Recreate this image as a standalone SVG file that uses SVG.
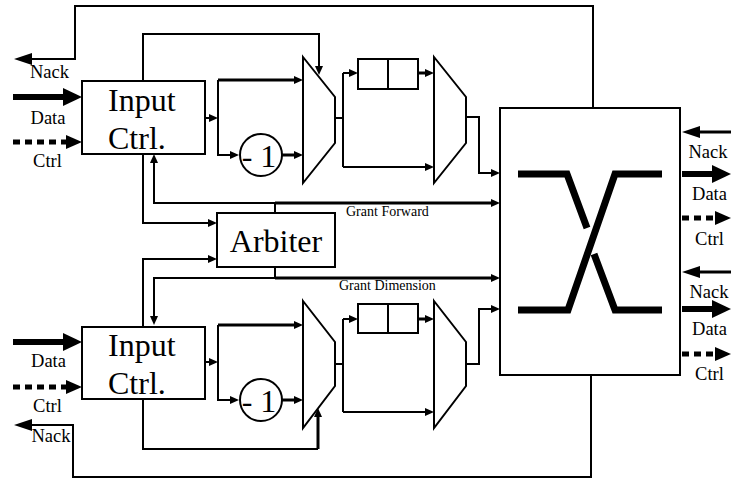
<svg xmlns="http://www.w3.org/2000/svg" width="731" height="479" viewBox="0 0 731 479">
<style>
.ln{fill:none;stroke:#000;stroke-width:2}
.th{fill:none;stroke:#000;stroke-width:3}
.fat{fill:none;stroke:#000;stroke-width:6}
.dot{fill:none;stroke:#000;stroke-width:5;stroke-dasharray:7 5}
.box{fill:#fff;stroke:#000;stroke-width:2}
.x{fill:none;stroke:#000;stroke-width:7;stroke-linejoin:miter}
.big{font-family:"Liberation Serif","Times New Roman",serif;font-size:32px;fill:#000}
.lab{font-family:"Liberation Serif","Times New Roman",serif;font-size:18.5px;fill:#000}
.sm{font-family:"Liberation Serif","Times New Roman",serif;font-size:14px;fill:#000}
</style>
<defs>
<marker id="a" markerUnits="userSpaceOnUse" markerWidth="10" markerHeight="9" refX="1" refY="4" orient="auto"><path d="M0,0 L9,4 L0,8 z" fill="#000" stroke="none"/></marker>
<marker id="m" markerUnits="userSpaceOnUse" markerWidth="19" markerHeight="13" refX="1" refY="6" orient="auto"><path d="M0,0 L18,6 L0,12 z" fill="#000" stroke="none"/></marker>
<marker id="f" markerUnits="userSpaceOnUse" markerWidth="20" markerHeight="19" refX="1" refY="9" orient="auto"><path d="M0,0 L19,9 L0,18 z" fill="#000" stroke="none"/></marker>
<marker id="c" markerUnits="userSpaceOnUse" markerWidth="17" markerHeight="15" refX="1" refY="7" orient="auto"><path d="M0,0 L16,7 L0,14 z" fill="#000" stroke="none"/></marker>
</defs>
<rect width="731" height="479" fill="#fff"/>
<g id="connectors">
<path class="ln" d="M593,108 V6 H75 V59 H31" marker-end="url(#m)"/>
<path class="fat" d="M13,97 H64" marker-end="url(#f)"/>
<path class="dot" d="M13,142 H67" marker-end="url(#c)"/>
<path class="ln" d="M205,118 H210" marker-end="url(#a)"/>
<path class="th" d="M218,80 H295" marker-end="url(#a)"/>
<path class="ln" d="M218,80 V155 H231" marker-end="url(#a)"/>
<path class="th" d="M282,155 H295" marker-end="url(#a)"/>
<path class="ln" d="M143,81 V34 H319 V67" marker-end="url(#a)"/>
<path class="ln" d="M335,118 H343"/>
<path class="ln" d="M343,73 V167"/>
<path class="ln" d="M343,73 H350" marker-end="url(#a)"/>
<path class="ln" d="M343,167 H426" marker-end="url(#a)"/>
<path class="th" d="M418,73 H426" marker-end="url(#a)"/>
<path class="ln" d="M466,117 H479 V173 H492" marker-end="url(#a)"/>
<path class="ln" d="M275,213 V203 H154 V162" marker-end="url(#a)"/>
<path class="th" d="M275,203 H492" marker-end="url(#a)"/>
<path class="ln" d="M143,154 V223 H209" marker-end="url(#a)"/>
<path class="ln" d="M143,327 V259 H209" marker-end="url(#a)"/>
<path class="ln" d="M275,267 V278 H154 V317" marker-end="url(#a)"/>
<path class="th" d="M275,278 H492" marker-end="url(#a)"/>
<path class="fat" d="M13,342 H64" marker-end="url(#f)"/>
<path class="dot" d="M13,387 H67" marker-end="url(#c)"/>
<path class="ln" d="M591,375 V477 H73 V425 H31" marker-end="url(#m)"/>
<path class="ln" d="M205,362 H210" marker-end="url(#a)"/>
<path class="th" d="M218,325 H295" marker-end="url(#a)"/>
<path class="ln" d="M218,325 V400 H231" marker-end="url(#a)"/>
<path class="th" d="M282,400 H295" marker-end="url(#a)"/>
<path class="ln" d="M143,399 V449 H318"/>
<path class="th" d="M318,449 V416" marker-end="url(#a)"/>
<path class="ln" d="M335,364 H343"/>
<path class="ln" d="M343,319 V412"/>
<path class="ln" d="M343,319 H350" marker-end="url(#a)"/>
<path class="ln" d="M343,412 H426" marker-end="url(#a)"/>
<path class="th" d="M418,319 H426" marker-end="url(#a)"/>
<path class="ln" d="M466,364 H479 V309 H492" marker-end="url(#a)"/>
<path class="th" d="M731,132 H699" marker-end="url(#m)"/>
<path class="fat" d="M682,174 H713" marker-end="url(#f)"/>
<path class="dot" d="M682,218 H716" marker-end="url(#c)"/>
<path class="th" d="M731,272 H699" marker-end="url(#m)"/>
<path class="fat" d="M682,309 H713" marker-end="url(#f)"/>
<path class="dot" d="M682,354 H716" marker-end="url(#c)"/>
</g>
<g id="labels">
<text class="lab" x="49.5" y="78" text-anchor="middle">Nack</text>
<text class="lab" x="48" y="124" text-anchor="middle">Data</text>
<text class="lab" x="47.5" y="167" text-anchor="middle">Ctrl</text>
<text class="lab" x="48.5" y="367" text-anchor="middle">Data</text>
<text class="lab" x="47.5" y="412" text-anchor="middle">Ctrl</text>
<text class="lab" x="51" y="442" text-anchor="middle">Nack</text>
<text class="lab" x="708" y="158" text-anchor="middle">Nack</text>
<text class="lab" x="709.5" y="200" text-anchor="middle">Data</text>
<text class="lab" x="709.5" y="245" text-anchor="middle">Ctrl</text>
<text class="lab" x="709" y="298" text-anchor="middle">Nack</text>
<text class="lab" x="709.5" y="335" text-anchor="middle">Data</text>
<text class="lab" x="709.5" y="380" text-anchor="middle">Ctrl</text>
<text class="sm" x="346" y="216">Grant Forward</text>
<text class="sm" x="339" y="290">Grant Dimension</text>
</g>
<g id="input-ctrl-top">
<rect class="box" x="82" y="81" width="123" height="73"/>
<text class="big" x="108" y="111">Input</text>
<text class="big" x="108" y="149">Ctrl.</text>
</g>
<g id="input-ctrl-bottom">
<rect class="box" x="82" y="327" width="123" height="72"/>
<text class="big" x="108" y="356">Input</text>
<text class="big" x="108" y="394">Ctrl.</text>
</g>
<g id="arbiter">
<rect class="box" x="217" y="213" width="118" height="54"/>
<text class="big" x="276" y="252" text-anchor="middle">Arbiter</text>
</g>
<g id="dec-top">
<circle class="box" cx="261" cy="155" r="21"/>
<text class="big" x="259" y="167" text-anchor="middle" style="font-size:32px">- 1</text>
</g>
<g id="dec-bottom">
<circle class="box" cx="261" cy="400" r="21"/>
<text class="big" x="259" y="412" text-anchor="middle" style="font-size:32px">- 1</text>
</g>
<g id="mux1"><polygon class="box" points="303,57 335,97 335,143 303,183"/></g>
<g id="mux2"><polygon class="box" points="434,57 466,97 466,143 434,183"/></g>
<g id="mux3"><polygon class="box" points="303,301 335,342 335,386 303,428"/></g>
<g id="mux4"><polygon class="box" points="434,301 466,342 466,386 434,428"/></g>
<g id="queue-top">
<rect class="box" x="358" y="59" width="60" height="30"/>
<line class="ln" x1="388" y1="59" x2="388" y2="89"/>
</g>
<g id="queue-bottom">
<rect class="box" x="358" y="304" width="60" height="29"/>
<line class="ln" x1="388" y1="304" x2="388" y2="333"/>
</g>
<g id="crossbar">
<rect class="box" x="500" y="108" width="180" height="267"/>
<path class="x" d="M518,174 H567 L587,228"/>
<path class="x" d="M594,254 L615,310 H662"/>
<path class="x" d="M662,174 H615 L568,310 H518"/>
</g>
</svg>
